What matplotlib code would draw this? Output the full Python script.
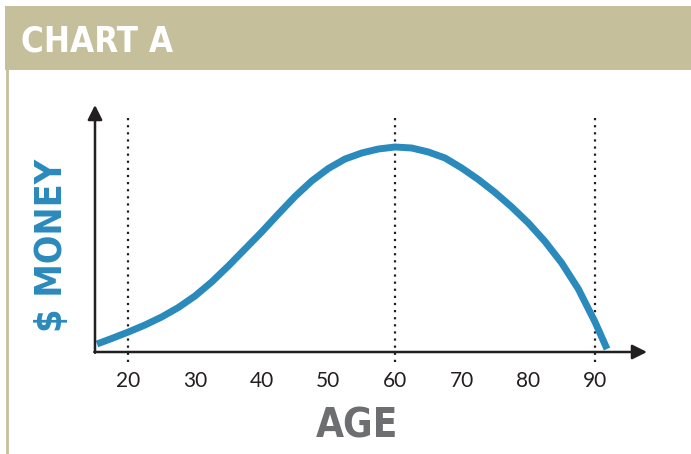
import matplotlib.pyplot as plt
from matplotlib.patches import Rectangle

# money over a lifetime
ages = [15.3, 17.5, 20, 22.5, 25, 27.5, 30, 32.5, 35, 37.5, 40, 42.5, 45, 47.5,
        50, 52.5, 55, 57.5, 60, 62.5, 65, 67.5, 70, 72.5, 75, 77.5, 80, 82.5,
        85, 87.5, 90, 91.8]
money = [8, 13.5, 20, 27, 35, 44.5, 56, 70, 86, 103, 120, 138, 155.5, 171,
         183.5, 193, 199, 203, 205, 204, 200, 194, 184, 172.5, 159.5, 145, 129, 110.5,
         89, 63, 30, 3]
tick_ages = [20, 30, 40, 50, 60, 70, 80, 90]
marked_ages = [20, 60, 90]

beige = '#c5c09b'
blue = '#2a8abb'
ink = '#231f20'
heading = dict(fontweight='bold', family=['DejaVu Sans'], fontstretch='condensed')

W, H = 691, 454
fig = plt.figure(figsize=(W / 100, H / 100), dpi=100)

# header band and frame, in pixel coordinates
bg = fig.add_axes([0, 0, 1, 1])
bg.set_xlim(0, W)
bg.set_ylim(H, 0)
bg.axis('off')
bg.add_patch(Rectangle((5, 6), W - 5, 64, color=beige, lw=0))
bg.plot([7, 7], [70, H], color=beige, lw=2)
bg.text(21, 41, 'CHART A', color='white', fontsize=25, va='center', ha='left', **heading)

# chart area: left edge at the y axis, bottom at the x axis
left, right, bottom, top = 95, 647, 352, 105
ax = fig.add_axes([left / W, (H - bottom) / H, (right - left) / W, (bottom - top) / H])
ax.patch.set_alpha(0)
ax.set_xlim(15.0, 15.0 + (right - left) / 6.667)
ax.set_ylim(0, bottom - top)
ax.axis('off')

arrow = dict(arrowstyle='-|>', color=ink, lw=1.8, mutation_scale=22, shrinkA=0, shrinkB=0)
x0, x1 = ax.get_xlim()
y0, y1 = ax.get_ylim()
ax.annotate('', xy=(x1, 0), xytext=(x0 - 0.1, 0), arrowprops=arrow, annotation_clip=False)
ax.annotate('', xy=(x0, y1), xytext=(x0, -0.8), arrowprops=arrow, annotation_clip=False)

for a in marked_ages:
    ax.plot([a, a], [-10, 235], color=ink, lw=1.6, ls=(0, (1, 2.2)), clip_on=False)

ax.plot(ages, money, color=blue, lw=5, solid_capstyle='butt', solid_joinstyle='round',
        clip_on=False)

for a in tick_ages:
    ax.text(a, -29, str(a), ha='center', va='center', fontsize=15, color=ink,
            family=['Lato', 'DejaVu Sans'], clip_on=False)

bg.text(357, 426, 'AGE', color='#6d6e71', fontsize=29, ha='center', va='center', **heading)
bg.text(52, 245, '$ MONEY', color=blue, fontsize=27, rotation=90,
        ha='center', va='center', **heading)

fig.savefig('out.png', dpi=100)
